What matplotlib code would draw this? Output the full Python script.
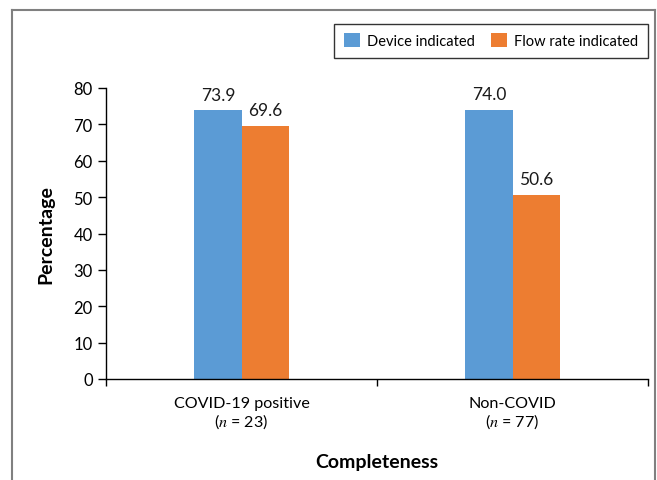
import matplotlib.pyplot as plt
from matplotlib.lines import Line2D
import numpy as np

plt.rcParams['font.family'] = ['Lato', 'DejaVu Sans']
plt.rcParams['mathtext.fontset'] = 'stix'

# datos
grupos = ["COVID-19 positive\n($n$ = 23)", "Non-COVID\n($n$ = 77)"]
dispositivo = [73.9, 74.0]
flujo = [69.6, 50.6]
series = ["Device indicated", "Flow rate indicated"]
colores = ["#5B9BD5", "#ED7D31"]

fig = plt.figure(figsize=(6.57, 4.81), dpi=100)
ax = fig.add_axes([106 / 657, 1 - 380 / 481, 542 / 657, 291 / 481])

x = np.arange(len(grupos))
ancho = 0.174
b1 = ax.bar(x - ancho / 2, dispositivo, ancho, color=colores[0], label=series[0])
b2 = ax.bar(x + ancho / 2, flujo, ancho, color=colores[1], label=series[1])

for barras in (b1, b2):
    for b in barras:
        ax.annotate(f"{b.get_height():.1f}", (b.get_x() + b.get_width() / 2, b.get_height()),
                    xytext=(0, 5.5), textcoords="offset points", ha="center", va="bottom",
                    fontsize=12.5, color="#1a1a1a")

ax.set_xlim(-0.5, 1.5)
ax.set_ylim(0, 80)
ax.set_yticks(range(0, 81, 10))
ax.set_xticks(x)
ax.set_xticklabels(grupos, fontsize=11.6, linespacing=1.1)
ax.set_xticks([-0.5, 0.5, 1.5], minor=True)
ax.tick_params(axis="x", which="major", length=0, pad=12)
ax.tick_params(axis="x", which="minor", length=5, width=1, direction="out")
ax.tick_params(axis="y", length=5.5, width=1, direction="out", labelsize=12, pad=4)

for lado in ("top", "right"):
    ax.spines[lado].set_visible(False)
for lado in ("left", "bottom"):
    ax.spines[lado].set_linewidth(1)
    ax.spines[lado].set_color("black")

ax.set_ylabel("Percentage", fontsize=14, fontweight="bold", labelpad=14)
ax.set_xlabel("Completeness", fontsize=14, fontweight="bold", labelpad=17)

ax.legend(loc="upper right", bbox_to_anchor=(1.0, 1.22), ncol=2, frameon=True, fancybox=False,
          edgecolor="black", fontsize=10.5, handlelength=1.1, handleheight=1.1,
          columnspacing=1.1, handletextpad=0.5, borderpad=0.65, borderaxespad=0)

# marco gris de la figura
gris = "#808080"
fig.add_artist(Line2D([12 / 657, 12 / 657], [0, 1 - 11 / 481], color=gris, lw=1.5))
fig.add_artist(Line2D([12 / 657, 655 / 657], [1 - 11 / 481, 1 - 11 / 481], color=gris, lw=1.5))
fig.add_artist(Line2D([655 / 657, 655 / 657], [0, 1 - 11 / 481], color=gris, lw=1.5))

fig.savefig("out.png", dpi=100)
